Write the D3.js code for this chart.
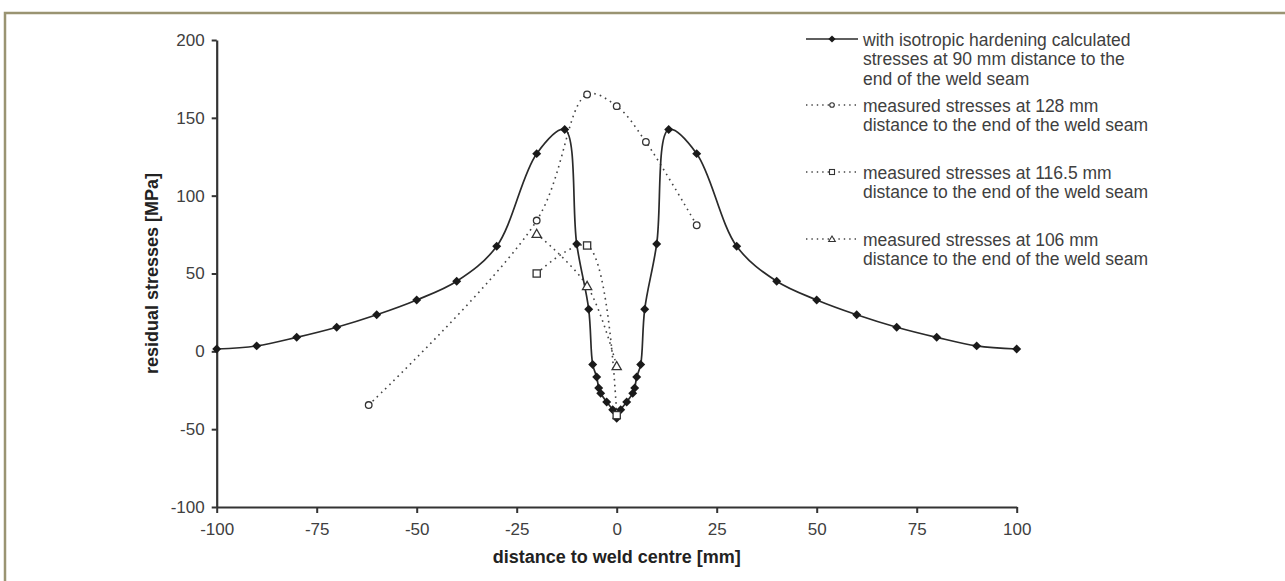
<!DOCTYPE html>
<html><head><meta charset="utf-8">
<script src="https://cdn.jsdelivr.net/npm/d3@7"></script>
<style>body{margin:0;background:#fff;} svg{display:block;font-family:"Liberation Sans",Arial,sans-serif;}</style>
</head><body><svg id="c" width="1285" height="581"></svg>
<script>
// ---- data ----
const calcX = [-100,-90,-80,-70,-60,-50,-40,-30,-20,-13,-10,-7,-6,-5,-4.5,-4,-2.5,-1,0,1,2.5,4,4.5,5,6,7,10,13,20,30,40,50,60,70,80,90,100];
const calcY = [1.5,3.5,9,15.5,23.5,33,45,67.5,127,142.5,69,27,-8.5,-16.5,-23.5,-27,-32.5,-37.5,-43,-37.5,-32.5,-27,-23.5,-16.5,-8.5,27,69,142.5,127,67.5,45,33,23.5,15.5,9,3.5,1.5];
const m128X = [-62,-20,-7.4,0,7.3,20];
const m128Y = [-34.5,84,165,157.5,134.5,81];
const m1165X = [-20,-7.4,0];
const m1165Y = [50,68,-41];
const m106X = [-20,-7.4,0];
const m106Y = [75.5,42,-9.5];
const xTicks = [-100,-75,-50,-25,0,25,50,75,100];
const yTicks = [-100,-50,0,50,100,150,200];
const legendLabels = [
  ["with isotropic hardening calculated","stresses at 90 mm distance to the","end of the weld seam"],
  ["measured stresses at 128 mm","distance to the end of the weld seam"],
  ["measured stresses at 116.5 mm","distance to the end of the weld seam"],
  ["measured stresses at 106 mm","distance to the end of the weld seam"]
];
const xTitle = "distance to weld centre [mm]";
const yTitle = "residual stresses [MPa]";

// ---- layout ----
const svg = d3.select("#c");
const x = d3.scaleLinear().domain([-100,100]).range([216.7,1016.7]);
const y = d3.scaleLinear().domain([-100,200]).range([507,40]);
const txt = "#404040";

// frame
svg.append("path").attr("d","M5,581 L5,13 L1285,13").attr("fill","none")
  .attr("stroke","#9a9472").attr("stroke-width",2.5);

// axes
const fmt = d => String(d);
const ya = svg.append("g").attr("transform",`translate(${x(-100)},0)`)
  .call(d3.axisLeft(y).tickValues(yTicks).tickFormat(fmt).tickSize(5).tickPadding(7).tickSizeOuter(0));
const xa = svg.append("g").attr("transform",`translate(0,${y(-100)})`)
  .call(d3.axisBottom(x).tickValues(xTicks).tickFormat(fmt).tickSize(6).tickPadding(10).tickSizeOuter(0));
[ya,xa].forEach(g=>{
  g.select(".domain").attr("stroke","#333").attr("stroke-width",2.2);
  g.selectAll(".tick line").attr("stroke","#333").attr("stroke-width",2);
  g.selectAll(".tick text").attr("fill",txt).style("font-size","17px").style("font-family","Liberation Sans, Arial, sans-serif");
});

// titles
svg.append("text").attr("x",(x(-100)+x(100))/2).attr("y",563).attr("text-anchor","middle")
  .attr("font-weight","bold").attr("font-size","18px").attr("fill","#222").text(xTitle);
svg.append("text").attr("transform",`translate(158,${(y(200)+y(-100))/2}) rotate(-90)`)
  .attr("text-anchor","middle").attr("font-weight","bold").attr("font-size","18px").attr("fill","#222").text(yTitle);

const line = d3.line().x(d=>x(d[0])).y(d=>y(d[1])).curve(d3.curveCatmullRom.alpha(0.5));
const zip = (a,b)=>a.map((v,i)=>[v,b[i]]);

const dash = "1.6,4.2";
const measured = [
  {pts:zip(m128X,m128Y), sym:"circle"},
  {pts:zip(m1165X,m1165Y), sym:"square"},
  {pts:zip(m106X,m106Y), sym:"triangle"}
];
measured.forEach(s=>{
  svg.append("path").attr("d",line(s.pts)).attr("fill","none").attr("stroke","#444")
    .attr("stroke-width",1.6).attr("stroke-dasharray",dash);
});
const calc = zip(calcX,calcY);
svg.append("path").attr("d",line(calc)).attr("fill","none").attr("stroke","#2a2a2a").attr("stroke-width",1.7);

function drawSym(g, type, cx, cy){
  if(type==="diamond"){
    g.append("path").attr("d",d3.symbol(d3.symbolSquare,40)())
     .attr("transform",`translate(${cx},${cy}) rotate(45)`).attr("fill","#1a1a1a");
  } else if(type==="circle"){
    g.append("circle").attr("cx",cx).attr("cy",cy).attr("r",3.3).attr("fill","#fff").attr("stroke","#333").attr("stroke-width",1.3);
  } else if(type==="square"){
    g.append("rect").attr("x",cx-3.6).attr("y",cy-3.6).attr("width",7.2).attr("height",7.2).attr("fill","#fff").attr("stroke","#333").attr("stroke-width",1.3);
  } else if(type==="triangle"){
    g.append("path").attr("d",`M${cx},${cy-4.6} L${cx+4.6},${cy+3.6} L${cx-4.6},${cy+3.6} Z`).attr("fill","#fff").attr("stroke","#333").attr("stroke-width",1.3);
  }
}
const mk = svg.append("g");
calc.forEach(p=>drawSym(mk,"diamond",x(p[0]),y(p[1])));
measured.forEach(s=>s.pts.forEach(p=>drawSym(mk,s.sym,x(p[0]),y(p[1]))));

// legend
const legY = [39,105,172,239];
const syms = ["diamond","circle","square","triangle"];
const lg = svg.append("g");
legY.forEach((ly,i)=>{
  const l = lg.append("line").attr("x1",806).attr("x2",858).attr("y1",ly).attr("y2",ly);
  if(i===0) l.attr("stroke","#2a2a2a").attr("stroke-width",1.6);
  else l.attr("stroke","#444").attr("stroke-width",1.4).attr("stroke-dasharray","1.4,4");
  if(i===0) lg.append("path").attr("d",d3.symbol(d3.symbolSquare,26)()).attr("transform",`translate(832,${ly}) rotate(45)`).attr("fill","#1a1a1a");
  else {
    if(syms[i]==="circle") lg.append("circle").attr("cx",832).attr("cy",ly).attr("r",2.3).attr("fill","#fff").attr("stroke","#333").attr("stroke-width",1.1);
    if(syms[i]==="square") lg.append("rect").attr("x",829.5).attr("y",ly-2.5).attr("width",5).attr("height",5).attr("fill","#fff").attr("stroke","#333").attr("stroke-width",1.1);
    if(syms[i]==="triangle") lg.append("path").attr("d",`M832,${ly-3} L835.3,${ly+2.5} L828.7,${ly+2.5} Z`).attr("fill","#fff").attr("stroke","#333").attr("stroke-width",1.1);
  }
  const t = lg.append("text").attr("x",863).attr("y",ly+6.5).attr("fill",txt).attr("font-size","17.5px");
  legendLabels[i].forEach((s,j)=>t.append("tspan").attr("x",863).attr("dy",j===0?0:19.7).text(s));
});
</script></body></html>
